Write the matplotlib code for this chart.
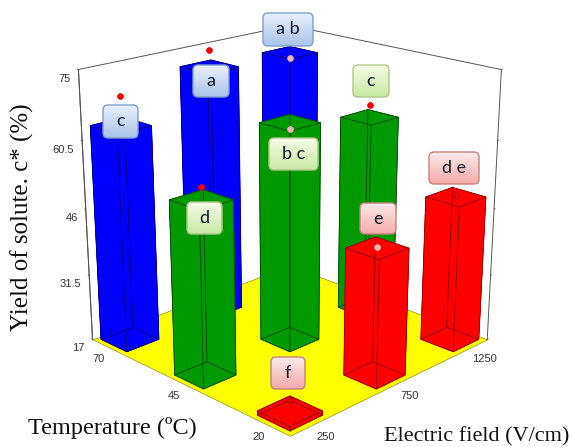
import numpy as np
import matplotlib
matplotlib.use("Agg")
import matplotlib.pyplot as plt
from matplotlib.patches import FancyBboxPatch
from mpl_toolkits.mplot3d import proj3d
from mpl_toolkits.mplot3d.art3d import Poly3DCollection, Line3DCollection

# ---- data -------------------------------------------------------------
electric_levels = [250, 750, 1250]
temperature_levels = [20, 45, 70]
yield_ticks = [17, 31.5, 46, 60.5, 75]
yield_tick_labels = ["17", "31.5", "46", "60.5", "75"]

bar_electric = [250, 750, 1250, 250, 750, 1250, 250, 750, 1250]
bar_temperature = [70, 70, 70, 45, 45, 45, 20, 20, 20]
bar_yield = [63.6, 71.5, 70.6, 53.8, 64.2, 60.6, 17.9, 44.0, 48.6]
point_yield = [69.7, 75.0, 69.5, 56.3, 62.8, 63.3, 20.2, 44.3, 49.0]
bar_letters = ["c", "a", "a b", "d", "b c", "c", "f", "e", "d e"]
bar_groups = ["blue", "blue", "blue", "green", "green", "green", "red", "red", "red"]

# ---- styles and layout -------------------------------------------------
FACE = {"blue": "#0000ff", "green": "#009900", "red": "#ff0000"}
EDGE = {"blue": "#000070", "green": "#004400", "red": "#8a0000"}
GRAD = {"blue": ("#eaf1fb", "#a9c3ea"), "green": ("#f6fde6", "#c9e8a2"), "red": ("#fdeaea", "#f4aaaa")}
RIM = {"blue": "#7f9fc9", "green": "#aec68a", "red": "#c98080"}
POINT = ["#ff0000", "#ff0000", "#f7b4b4", "#ff0000", "#f7b4b4", "#ff0000", "#e80000", "#f7b4b4", "#ff0000"]
POINT_EDGE = ["#e00000", "#e00000", "#f7b4b4", "#e00000", "#f7b4b4", "#e00000", "#a00000", "#f7b4b4", "#a00000"]
# label boxes in figure pixels: left, top, right, bottom
BOXES = [(103, 105, 138, 138), (193, 65, 229, 97), (263, 13, 313, 46),
         (187, 202, 222, 234), (269, 138, 318, 170), (353, 65, 389, 97),
         (271, 357, 305, 389), (360, 203, 396, 234), (429, 152, 479, 184)]

E_MIN, E_MAX = 133, 1367
T_MIN, T_MAX = 14.15, 75.85
Y_MIN, Y_MAX = 17, 75
BAR_E, BAR_T = 181, 9.07

fig = plt.figure(figsize=(5.71, 4.47), dpi=100)
W, H = 571, 447
ax = fig.add_axes([47 / W, -5 / H, 473 / W, 473 / H], projection="3d", computed_zorder=False)
ax.set_proj_type("persp", focal_length=0.54)
ax.view_init(elev=19.5, azim=-135)
ax.set_box_aspect((1, 1, 0.99), zoom=1.023)
ax.set_xlim(E_MIN, E_MAX, view_margin=0)
ax.set_ylim(T_MIN, T_MAX, view_margin=0)
ax.set_zlim(Y_MIN, Y_MAX, view_margin=0)
ax.set_axis_off()

# floor
floor = Poly3DCollection([[(E_MIN, T_MIN, Y_MIN), (E_MAX, T_MIN, Y_MIN), (E_MAX, T_MAX, Y_MIN), (E_MIN, T_MAX, Y_MIN)]],
                         facecolor="#ffff00", edgecolor="#777700", linewidth=0.4, zorder=1)
ax.add_collection3d(floor)

# frame
frame = dict(color="#555555", lw=0.7, zorder=2)
ax.plot([E_MIN, E_MIN, E_MAX, E_MAX], [T_MAX, T_MAX, T_MAX, T_MIN], [Y_MIN, Y_MAX, Y_MAX, Y_MAX], **frame)
ax.plot([E_MIN, E_MIN], [T_MAX, T_MAX], [Y_MIN, Y_MAX], **frame)
ax.plot([E_MAX, E_MAX], [T_MIN, T_MIN], [Y_MIN, Y_MAX], **frame)
ax.plot([E_MAX, E_MAX], [T_MAX, T_MAX], [Y_MIN, Y_MAX], **frame)
for z in yield_ticks:
    ax.plot([E_MIN, E_MIN], [T_MAX, T_MAX + 0.3], [z, z], **frame)
    ax.plot([E_MAX + 6, E_MAX], [T_MIN, T_MIN], [z, z], **frame)

# bars, back to front
order = sorted(range(9), key=lambda i: -(bar_electric[i] + 20 * bar_temperature[i]))
for k, i in enumerate(order):
    x0, x1 = bar_electric[i] - BAR_E / 2, bar_electric[i] + BAR_E / 2
    y0, y1 = bar_temperature[i] - BAR_T / 2, bar_temperature[i] + BAR_T / 2
    z0, z1 = Y_MIN, bar_yield[i]
    c = [(x0, y0), (x1, y0), (x1, y1), (x0, y1)]
    faces = [[(*c[j], z0), (*c[(j + 1) % 4], z0), (*c[(j + 1) % 4], z1), (*c[j], z1)] for j in range(4)]
    faces += [[(*p, z1) for p in c]]
    col = FACE[bar_groups[i]]
    ax.add_collection3d(Poly3DCollection(faces, facecolor=col, edgecolor=col, linewidth=0.3, zorder=10 + 2 * k))
    segs = []
    for j in range(4):
        segs += [[(*c[j], z0), (*c[(j + 1) % 4], z0)], [(*c[j], z1), (*c[(j + 1) % 4], z1)], [(*c[j], z0), (*c[j], z1)]]
    ax.add_collection3d(Line3DCollection(segs, colors=EDGE[bar_groups[i]], linewidths=0.6, zorder=11 + 2 * k))

for i in range(9):
    ax.plot([bar_electric[i]], [bar_temperature[i]], [point_yield[i]], marker="o", ms=4.2, mfc=POINT[i],
            mec=POINT_EDGE[i], mew=0.5, ls="none", zorder=40)

fig.canvas.draw()
M = ax.get_proj()


def to_px(x, y, z):
    px, py, _ = proj3d.proj_transform(x, y, z, M)
    a, b = ax.transData.transform((px, py))
    return a, H - b


ov = fig.add_axes([0, 0, 1, 1], zorder=50)
ov.set_xlim(0, W)
ov.set_ylim(H, 0)
ov.axis("off")

# tick labels
TICKFONT = dict(family="Liberation Sans", fontsize=8, color="#333333")
for z, s in zip(yield_ticks, yield_tick_labels):
    a, b = to_px(E_MIN, T_MAX, z)
    ov.text(a - 8, b + 9, s, ha="right", va="center", **TICKFONT)
for t in temperature_levels:
    a, b = to_px(E_MIN, t, Y_MIN)
    ov.text(a - 10, b + 12, str(t), ha="center", va="center", **TICKFONT)
for e in electric_levels:
    a, b = to_px(e, T_MIN, Y_MIN)
    ov.text(a + 14, b + 12, str(e), ha="center", va="center", **TICKFONT)

# letter boxes
gradient = np.linspace(0, 1, 64).reshape(-1, 1)
for i, (l, t, r, b) in enumerate(BOXES):
    g = bar_groups[i]
    cmap = matplotlib.colors.LinearSegmentedColormap.from_list("g", GRAD[g])
    patch = FancyBboxPatch((l + 3, t + 3), r - l - 6, b - t - 6, boxstyle="round,pad=3,rounding_size=5",
                           facecolor="none", edgecolor=RIM[g], linewidth=1.0, zorder=61)
    ov.add_patch(patch)
    im = ov.imshow(gradient, extent=(l, r, b, t), cmap=cmap, aspect="auto", zorder=60, origin="upper")
    im.set_clip_path(patch)
    ov.text((l + r) / 2, (t + b) / 2, bar_letters[i], ha="center", va="center", family="Lato",
            fontsize=13, color="#10182a", zorder=62)
ov.set_xlim(0, W)
ov.set_ylim(H, 0)

# axis titles
SERIF = dict(family="Liberation Serif", color="#111111")
ov.text(22, 217, "Yield of solute. c* (%)", rotation=90, ha="center", va="center", fontsize=18, **SERIF)
ov.text(112, 428, "Temperature (ºC)", ha="center", va="center", fontsize=17.5, **SERIF)
ov.text(477, 437, "Electric field (V/cm)", ha="center", va="center", fontsize=16, **SERIF)

fig.savefig("out.png", dpi=100)
